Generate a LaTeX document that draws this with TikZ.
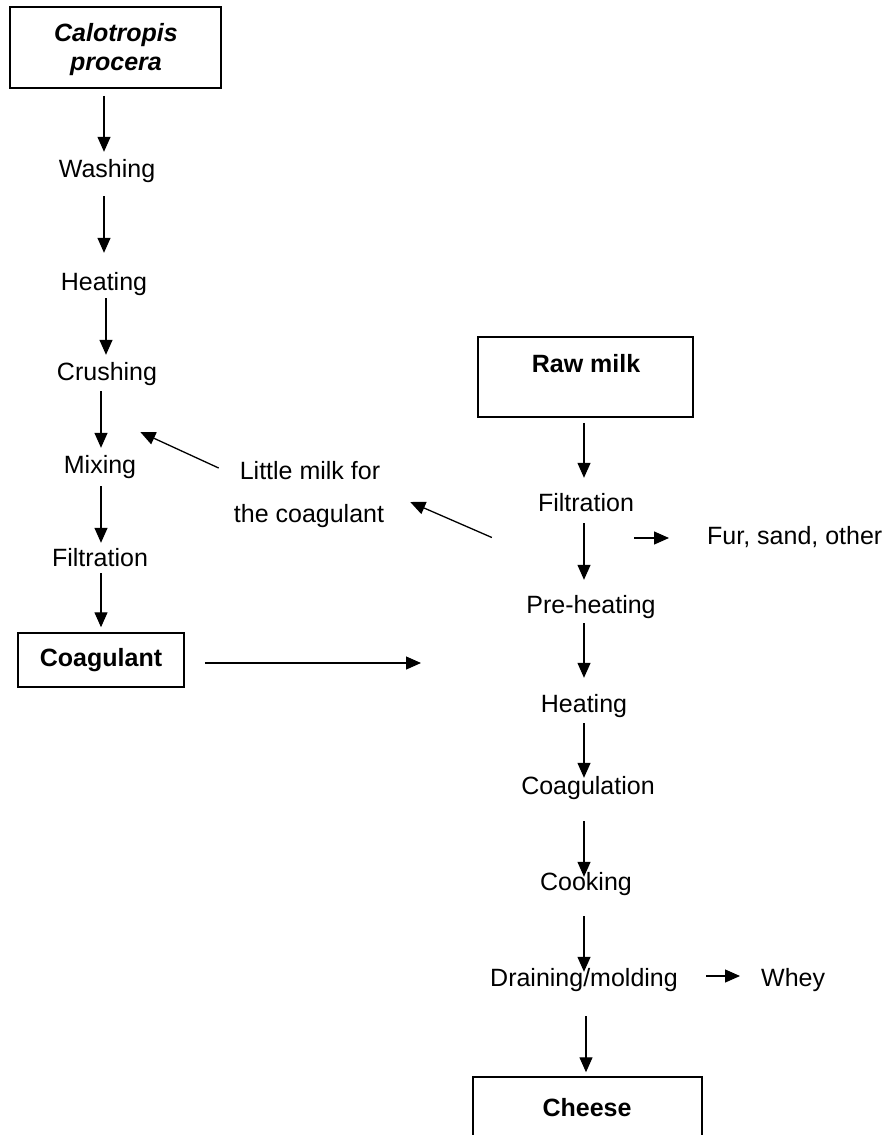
\documentclass[tikz,border=0pt]{standalone}
\usepackage{fontspec}
\setmainfont{Liberation Sans}
\usetikzlibrary{arrows.meta,calc}
\begin{document}
\begin{tikzpicture}[x=1pt,y=-1pt,
  font=\fontsize{25}{29}\selectfont,
  lbl/.style={inner sep=0pt, text height=18pt, text depth=5pt, anchor=base},
  boxn/.style={draw, line width=1.5pt, inner sep=0pt, text height=18pt, text depth=5pt},
  bf/.style={font=\fontsize{25}{29}\selectfont\bfseries},
  bfi/.style={font=\fontsize{25}{29}\selectfont\bfseries\itshape},
  arr/.style={line width=1.3pt, -{Triangle[width=13pt,length=15pt]}}]
\useasboundingbox (0,0) rectangle (884,1135);
\clip (0,0) rectangle (884,1135);

% left column
\node[boxn, minimum width=211pt, minimum height=81pt] (calbox) at (115.5,47.5) {};
\node[lbl, bfi] (cal1) at (116,41) {Calotropis};
\node[lbl, bfi] (cal2) at (116,70) {procera};
\node[lbl] (wash) at (107,177) {Washing};
\node[lbl] (heatL) at (104,290) {Heating};
\node[lbl] (crush) at (107,380) {Crushing};
\node[lbl] (mix) at (100,473) {Mixing};
\node[lbl] (filtL) at (100,566) {Filtration};
\node[boxn, bf, minimum width=166pt, minimum height=54pt] (coag) at (101,660) {Coagulant};
\node[lbl] (milk1) at (310,479) {Little milk for};
\node[lbl] (milk2) at (309,522) {the coagulant};
\coordinate (coagin) at (421,663);

% right column
\node[boxn, minimum width=215pt, minimum height=80pt] (rmbox) at (585.5,377) {};
\node[lbl, bf] (rawtext) at (586,372) {Raw milk};
\node[lbl] (filtR) at (586,511) {Filtration};
\node[lbl, anchor=base west] (fur) at (707,544) {Fur, sand, other};
\node[lbl] (pre) at (591,613) {Pre-heating};
\node[lbl] (heatR) at (584,712) {Heating};
\node[lbl] (coagu) at (588,794) {Coagulation};
\node[lbl] (cook) at (586,890) {Cooking};
\node[lbl] (drain) at (584,986) {Draining/molding};
\node[lbl, anchor=base west] (whey) at (761,986) {Whey};
\node[boxn, minimum width=229pt, minimum height=80pt] (cheesebox) at (587.5,1117) {};
\node[lbl, bf] (cheesetext) at (587,1116) {Cheese};

% left arrows
\draw[arr] ($(calbox.south)+(-11.5,7)$) -- ($(wash.north)+(-3,-7)$);
\draw[arr] ($(wash.south)+(-3,14)$) -- ($(heatL.north)+(0,-19)$);
\draw[arr] ($(heatL.south)+(2,3)$) -- ($(crush.north)+(-1,-7)$);
\draw[arr] ($(crush.south)+(-6,6)$) -- ($(mix.north)+(1,-7)$);
\draw[arr] ($(mix.south)+(1,8)$) -- ($(filtL.north)+(1,-5)$);
\draw[arr] ($(filtL.south)+(1,2)$) -- ($(coag.north)+(0,-5)$);
\draw[arr] ($(coag.east)+(20,3)$) -- (coagin);
\draw[arr] ($(milk1.west)+(-21,-4.5)$) -- ($(mix.east)+(4,-34.5)$);
\draw[arr] ($(filtR.west)+(-46,33)$) -- ($(milk2.east)+(26,-13.5)$);

% right arrows
\draw[arr] ($(rmbox.south)+(-1.5,5)$) -- ($(filtR.north)+(-2,-15)$);
\draw[arr] ($(filtR.south)+(-2,7)$) -- ($(pre.north)+(-7,-15)$);
\draw[arr] ($(filtR.east)+(0,33.5)$) -- ($(fur.west)+(-38,0.5)$);
\draw[arr] ($(pre.south)+(-7,5)$) -- ($(heatR.north)+(0,-16)$);
\draw[arr] ($(heatR.south)+(0,6)$) -- ($(coagu.north)+(-4,2)$);
\draw[arr] ($(coagu.south)+(-4,22)$) -- ($(cook.north)+(-2,5)$);
\draw[arr] ($(cook.south)+(-2,21)$) -- ($(drain.north)+(0,4)$);
\draw[arr] ($(drain.east)+(28,-3.5)$) -- ($(whey.west)+(-21,-3.5)$);
\draw[arr] ($(drain.south)+(2,25)$) -- ($(cheesebox.north)+(-1.5,-4)$);
\end{tikzpicture}
\end{document}
